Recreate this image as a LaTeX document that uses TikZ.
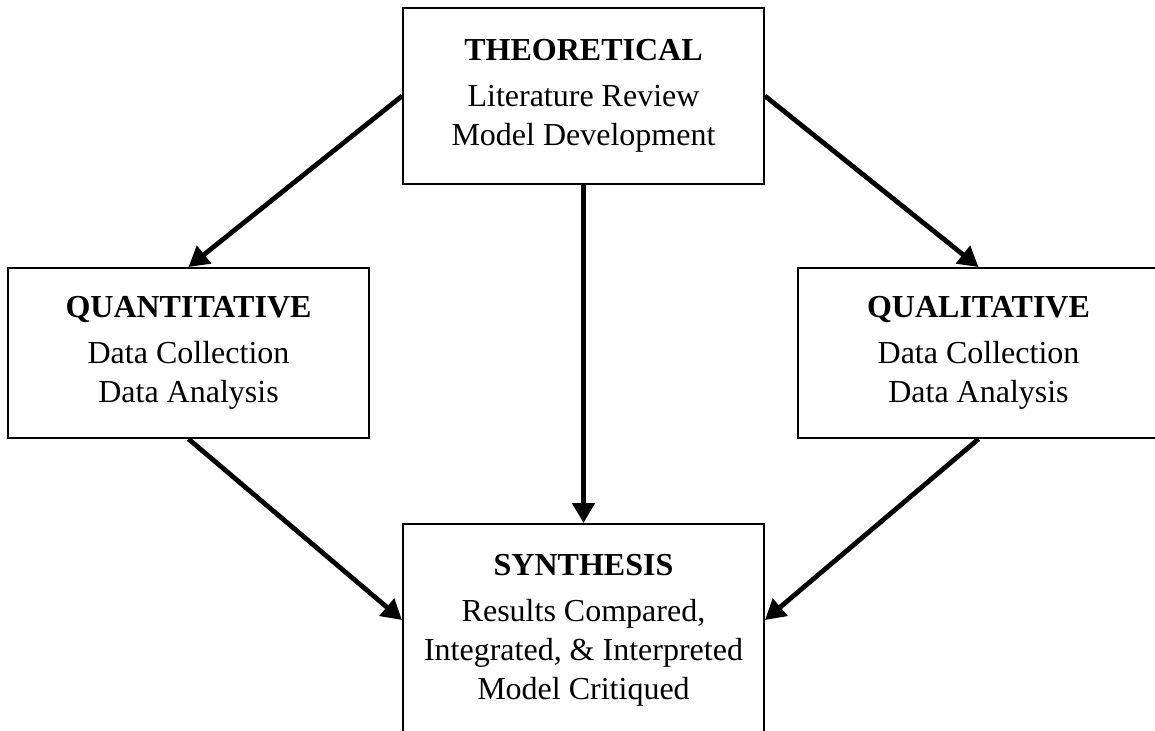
\documentclass[tikz,border=0pt]{standalone}
\usepackage{fontspec}
\setmainfont{Liberation Serif}
\usetikzlibrary{arrows.meta}
\begin{document}
\begin{tikzpicture}[x=0.5pt,y=-0.5pt,
  box/.style={draw, line width=1pt, minimum width=180.5pt, align=center,
    font=\fontsize{16}{19.5}\selectfont, inner sep=0pt},
  conn/.style={-{Triangle[length=10pt,width=11pt]}, line width=2.4pt}]
\useasboundingbox (0,0) rectangle (1155,730);
\clip (0,0) rectangle (1155,730);
\node[box, minimum height=88pt] (theo) at (583.5,96)
  {\textbf{THEORETICAL}\\[3.5pt] Literature Review\\ Model Development};
\node[box, minimum height=85pt] (quant) at (188.5,353)
  {\textbf{QUANTITATIVE}\\[3.5pt] Data Collection\\ Data Analysis};
\node[box, minimum height=85pt] (qual) at (978.5,353)
  {\textbf{QUALITATIVE}\\[3.5pt] Data Collection\\ Data Analysis};
\node[box, minimum height=106pt] (synth) at (583.5,630)
  {\textbf{SYNTHESIS}\\[3.5pt] Results Compared,\\ Integrated, \& Interpreted\\ Model Critiqued};
\draw[conn] (theo.west) -- (quant.north);
\draw[conn] (theo.east) -- (qual.north);
\draw[conn] (theo.south) -- (synth.north);
\draw[conn] (quant.south) -- ([yshift=5pt]synth.west);
\draw[conn] (qual.south) -- ([yshift=5pt]synth.east);
\end{tikzpicture}
\end{document}
